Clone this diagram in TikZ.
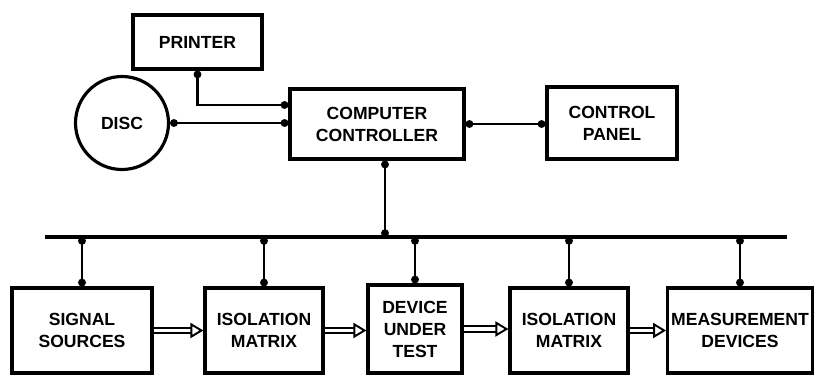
\documentclass[tikz,border=0pt]{standalone}
\usepackage{fontspec}
\setmainfont{Liberation Sans}
\usetikzlibrary{arrows.meta,positioning,calc}

\begin{document}
\begin{tikzpicture}[
  every node/.style={font=\bfseries\fontsize{10}{12.5}\selectfont, align=center, inner sep=2pt},
  unitbox/.style={draw, line width=1.8pt, minimum height=1.7cm},
  link/.style={line width=1.5pt, {Circle[length=4.4pt]}-{Circle[length=4.4pt]}},
  feed/.style={double, double distance=2.2pt, line width=1.1pt,
               -{Triangle[open, length=0.26cm, width=0.3cm]}},
]
\useasboundingbox (0,0) rectangle (16.28,7.5);

% Upper row
\node[unitbox, minimum width=2.58cm, minimum height=1.08cm] (printer) at (3.95,6.66) {PRINTER};
\node[draw, circle, line width=1.8pt, minimum size=1.86cm] (disc) at (2.44,5.04) {DISC};
\node[unitbox, minimum width=3.48cm, minimum height=1.4cm] (ctrl) at (7.54,5.02) {COMPUTER\\CONTROLLER};
\node[unitbox, minimum width=2.6cm, minimum height=1.44cm] (panel) at (12.24,5.04) {CONTROL\\PANEL};

% Lower row
\node[unitbox, minimum width=2.8cm] (src) at (1.64,0.89) {SIGNAL\\SOURCES};
\node[unitbox, minimum width=2.36cm] (iso1) at (5.28,0.89) {ISOLATION\\MATRIX};
\node[unitbox, minimum width=1.88cm, minimum height=1.76cm] (dut) at (8.3,0.92) {DEVICE\\UNDER\\TEST};
\node[unitbox, minimum width=2.36cm] (iso2) at (11.38,0.89) {ISOLATION\\MATRIX};
\node[unitbox, minimum width=2.88cm] (meas) at (14.8,0.89) {MEASUREMENT\\DEVICES};

% Bus
\coordinate (busL) at (0.9,2.76);
\coordinate (busR) at (15.74,2.76);
\draw[line width=2pt] (busL) -- (busR);

% Links
\draw[link] (printer.south) |- ([yshift=0.38cm]ctrl.west);
\draw[link] (disc.east) -- (disc.east -| ctrl.west);
\draw[link] (ctrl.east) -- (ctrl.east -| panel.west);
\draw[link] ([xshift=0.16cm]ctrl.south) -- ([xshift=0.16cm]ctrl.south |- busL);
\foreach \n in {src,iso1,dut,iso2,meas}
  \draw[link] (\n.north |- busL) -- (\n.north);

% Signal path
\draw[feed] (src.east) -- (iso1.west);
\draw[feed] (iso1.east) -- (iso1.east -| dut.west);
\draw[feed] (dut.east) -- (dut.east -| iso2.west);
\draw[feed] (iso2.east) -- (meas.west);

\end{tikzpicture}
\end{document}
